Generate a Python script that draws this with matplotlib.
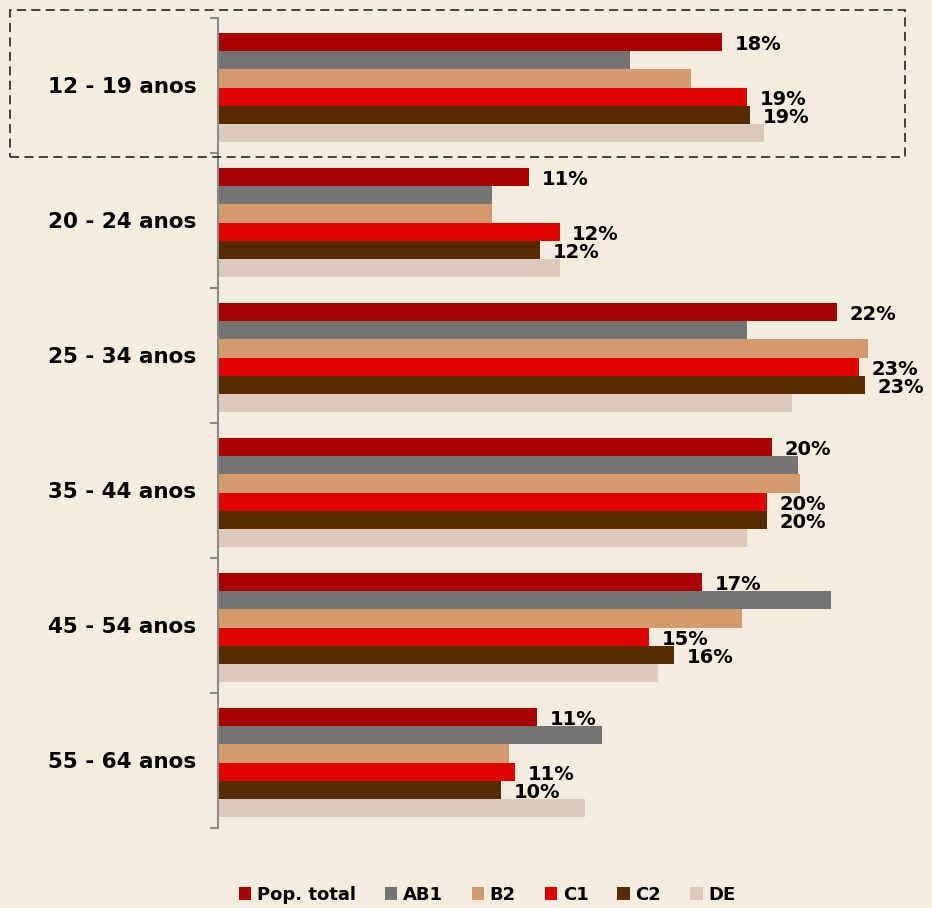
import matplotlib
matplotlib.use("Agg")
import matplotlib.pyplot as plt
import numpy as np
from matplotlib.patches import Rectangle

categories = ["12 - 19 anos", "20 - 24 anos", "25 - 34 anos", "35 - 44 anos", "45 - 54 anos", "55 - 64 anos"]
series_names = ["Pop. total", "AB1", "B2", "C1", "C2", "DE"]
pop_total = [18.0, 11.1, 22.1, 19.8, 17.3, 11.4]
ab1 = [14.7, 9.8, 18.9, 20.7, 21.9, 13.7]
b2 = [16.9, 9.8, 23.2, 20.8, 18.7, 10.4]
c1 = [18.9, 12.2, 22.9, 19.6, 15.4, 10.6]
c2 = [19.0, 11.5, 23.1, 19.6, 16.3, 10.1]
de = [19.5, 12.2, 20.5, 18.9, 15.7, 13.1]
labelled = [True, False, False, True, True, False]

colors = ["#a80000", "#747474", "#d59a6b", "#e00000", "#572a00", "#dccabc"]
values = [pop_total, ab1, b2, c1, c2, de]

bg = "#f4eddf"
fig = plt.figure(figsize=(9.32, 9.08), dpi=100, facecolor=bg)
ax = fig.add_axes([218/932, 1-828/908, 1-218/932, (828-18)/908])
ax.set_facecolor("none")

n = len(series_names)
bh = 0.134
y = np.arange(len(categories))
for i, (name, vals, col) in enumerate(zip(series_names, values, colors)):
    pos = y - (n-1)/2*bh + i*bh + 0.015
    ax.barh(pos, vals, height=bh, color=col, label=name, linewidth=0)
    if labelled[i]:
        for p, v in zip(pos, vals):
            ax.text(v + 0.45, p + 0.02, f"{round(v):.0f}%", va="center", ha="left",
                    fontsize=14, fontweight="bold", color="black")

ax.set_xlim(0, 714/28)
ax.set_ylim(len(categories)-0.5, -0.5)
ax.set_yticks(y)
ax.set_yticklabels(categories, fontsize=15.5, fontweight="bold")
ax.set_yticks(np.arange(-0.5, len(categories)), minor=True)
ax.tick_params(axis="y", which="major", length=0, pad=15.5)
ax.tick_params(axis="y", which="minor", length=6, color="#8a8a8a", width=1.5)
ax.set_xticks([])
for s in ["top", "right", "bottom"]:
    ax.spines[s].set_visible(False)
ax.spines["left"].set_color("#8a8a8a")
ax.spines["left"].set_linewidth(1.5)

# dashed highlight box around first group
fig.patches.append(Rectangle((10/932, 1-157/908), (905-10)/932, (157-10)/908,
                             transform=fig.transFigure, fill=False,
                             edgecolor="#333333", linestyle=(0, (5, 3)), linewidth=1.3))

leg = fig.legend(loc="center", bbox_to_anchor=(487/932, 1-895/908), ncol=6, frameon=False,
                 handlelength=0.7, handleheight=0.7, handletextpad=0.3, columnspacing=1.6,
                 prop={"size": 13, "weight": "bold"})

fig.savefig("out.png", dpi=100, facecolor=bg)
